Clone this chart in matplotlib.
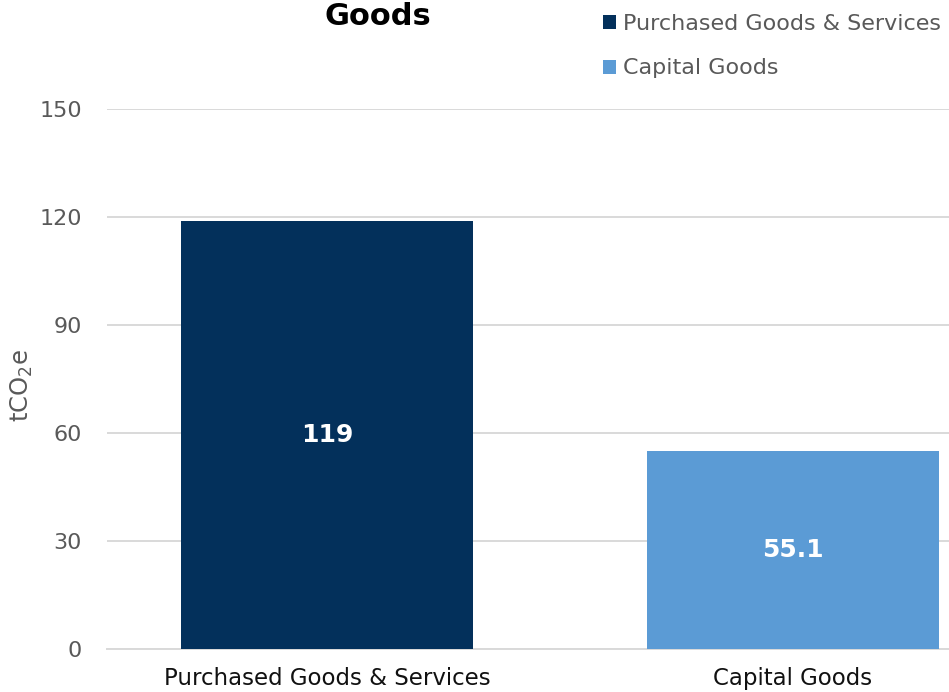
import matplotlib
matplotlib.use("Agg")
import matplotlib.pyplot as plt
from matplotlib.patches import Patch

categories = ["Purchased Goods & Services", "Capital Goods"]
values = [119, 55.1]
value_labels = ["119", "55.1"]
colors = ["#03305B", "#5B9BD5"]
yticks = [0, 30, 60, 90, 120, 150]

W, H = 949, 692
fig = plt.figure(figsize=(W / 100, H / 100), dpi=100)
plt.rcParams['font.family'] = ['DejaVu Sans']

# axes: left 107px, extends beyond right edge (cropped chart)
left = 107 / W
right_px = 1013
bottom = (H - 649) / H
top = (H - 109) / H
ax = fig.add_axes([left, bottom, (right_px - 107) / W, top - bottom])

x = [0, 1]
bars = ax.bar(x, values, width=0.627, color=colors, zorder=3)
ax.set_xlim(-0.472, 1.472)
ax.set_ylim(0, 150)
ax.set_yticks(yticks)
ax.set_yticklabels([str(t) for t in yticks], fontsize=16, color="#595959")
ax.tick_params(axis='y', length=0, pad=18)
ax.set_xticks(x)
ax.set_xticklabels(categories, fontsize=16.5, color="#111111")
ax.tick_params(axis='x', length=0, pad=13)
ax.grid(axis='y', color="#D9D9D9", linewidth=1.4, zorder=0)
for s in ["top", "right", "left"]:
    ax.spines[s].set_visible(False)
ax.spines["bottom"].set_color("#D9D9D9")
ax.spines["bottom"].set_linewidth(1.4)

for xi, v, lab in zip(x, values, value_labels):
    ax.text(xi, v / 2, lab, ha='center', va='center', color='white',
            fontsize=18, fontweight='bold', zorder=4)

fig.text(22 / W, 1 - 385 / H, "tCO$_2$e", rotation=90, ha='center', va='center',
         fontsize=17.5, color="#595959")

fig.text(378 / W, 1 - 2 / H, "Goods", ha='center', va='top',
         fontsize=22, fontweight='bold', color="black")

handles = [Patch(facecolor=c, edgecolor='none') for c in colors]
fig.legend(handles, categories, loc='upper left', bbox_to_anchor=(583 / W, 1 + 6 / H),
           frameon=False, fontsize=16, labelcolor="#595959", handlelength=0.6,
           handleheight=0.6, handletextpad=0.3, labelspacing=1.1)

fig.savefig("out.png", dpi=100)
